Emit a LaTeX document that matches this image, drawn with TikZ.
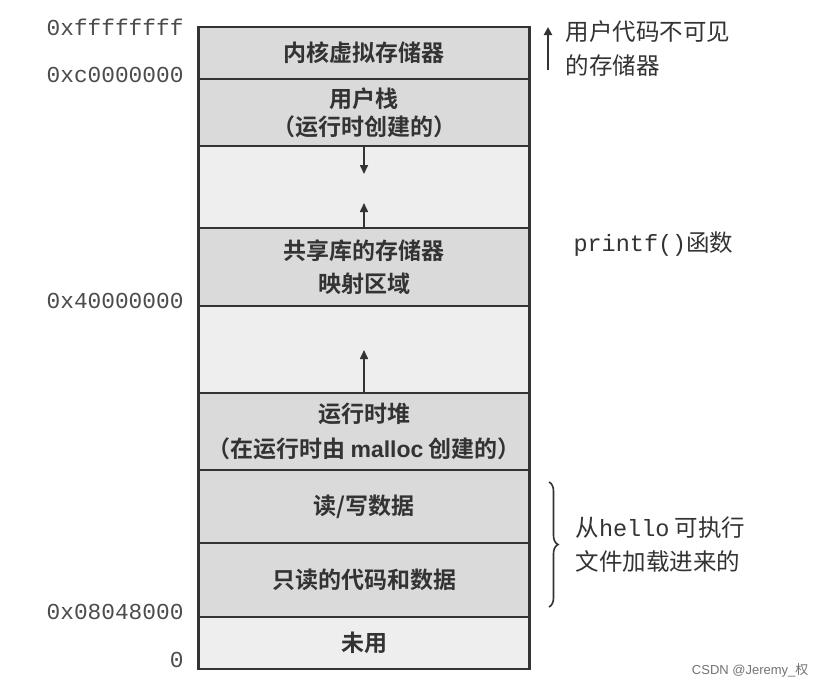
\documentclass[tikz,border=0pt]{standalone}
\usepackage{fontspec}
\setmainfont{Liberation Sans}
\newfontfamily\cjk{Noto Sans CJK SC}
\newfontfamily\cjkb{Noto Sans CJK SC Bold}
\newfontfamily\monof{Liberation Mono}
\usetikzlibrary{arrows.meta,decorations.pathreplacing}
\definecolor{fillA}{HTML}{DADADA}
\definecolor{fillB}{HTML}{EEEEEE}
\definecolor{inkc}{HTML}{333333}
\tikzset{
  region/.style={draw=inkc, line width=2.6pt, minimum width=331pt, inner sep=0pt, align=center, font=\fontsize{23}{31}\cjkb, text=inkc},
  fullbox/.style={region, fill=fillA},
  gapbox/.style={region, fill=fillB},
  addr/.style={anchor=east, font=\fontsize{22.8}{26}\monof, text=black!70},
  note/.style={anchor=west, align=left, font=\fontsize{23.5}{34}\cjk, text=inkc},
  growarrow/.style={draw=inkc, line width=1.6pt, -{Triangle[length=9pt,width=8pt]}},
}
\begin{document}
\begin{tikzpicture}[x=1pt,y=-1pt]
\useasboundingbox[fill=white] (0,0) rectangle (826,689);
% regions (top to bottom)
\node[fullbox, minimum height=52pt]  (kern)  at (364,53)  {内核虚拟存储器};
\node[fullbox, minimum height=67pt, font=\fontsize{23}{28}\cjkb]  (stack) at (364,112.5) {用户栈\\（运行时创建的）};
\node[gapbox,  minimum height=82pt]  (gap1)  at (364,187) {};
\node[fullbox, minimum height=78pt, font=\fontsize{23}{33}\cjkb]  (shlib) at (364,267) {共享库的存储器\\映射区域};
\node[gapbox,  minimum height=87pt]  (gap2)  at (364,349.5) {};
\node[fullbox, minimum height=77pt, font=\fontsize{23}{35}\cjkb]  (heap)  at (364,431.5) {运行时堆\\（在运行时由 {\fontspec{Liberation Sans}\bfseries malloc} 创建的）};
\node[fullbox, minimum height=73pt]  (rw)    at (364,506.5) {读/写数据};
\node[fullbox, minimum height=74pt]  (ro)    at (364,580) {只读的代码和数据};
\node[gapbox,  minimum height=52pt]  (unused) at (364,643) {未用};
% addresses
\node[addr] (a1) at (187,27)  {0xffffffff};
\node[addr] (a2) at (187,75)  {0xc0000000};
\node[addr] (a3) at (187,301) {0x40000000};
\node[addr] (a4) at (187,612) {0x08048000};
\node[addr] (a5) at (187,660) {0};
% growth arrows
\coordinate (sd) at (364,174);
\coordinate (su) at (364,203);
\coordinate (hu) at (364,350);
\draw[growarrow] (stack.south) -- (sd);
\draw[growarrow] (shlib.north) -- (su);
\draw[growarrow] (heap.north) -- (hu);
% right annotations
\coordinate (kt) at (548,27);
\coordinate (kb) at (548,70);
\draw[draw=inkc, line width=2pt, -{Triangle[length=8pt,width=8pt]}] (kb) -- (kt);
\node[note] (n1) at (562,49) {用户代码不可见\\的存储器};
\node[anchor=west, font=\fontsize{23.5}{26}\selectfont, text=inkc] (n2) at (570,244) {{\monof printf()}{\cjk 函数}};
\coordinate (bt) at (549,482);
\coordinate (bb) at (549,607);
\draw[draw=inkc, line width=1.6pt, decorate, decoration={brace, amplitude=9pt}] (bt) -- (bb);
\node[note] (n3) at (572,545) {从{\monof hello} 可执行\\文件加载进来的};
% watermark
\node[anchor=east, font=\fontsize{13}{15}\selectfont, text=black!55] (wm) at (812,670) {CSDN @Jeremy\_{\cjk 权}};
\end{tikzpicture}
\end{document}
